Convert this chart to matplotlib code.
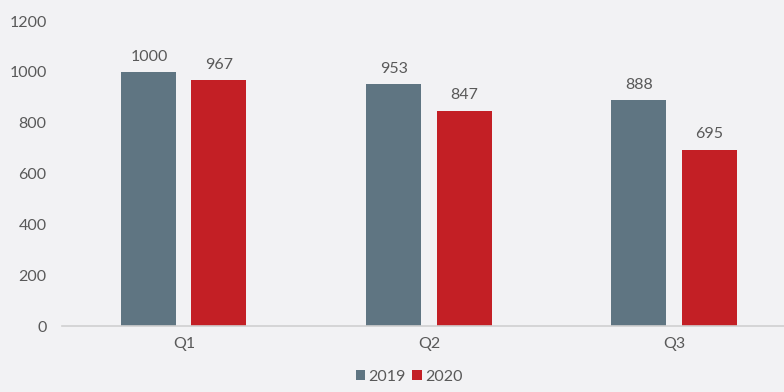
import matplotlib
matplotlib.use("Agg")
import matplotlib.pyplot as plt
import numpy as np

categories = ["Q1", "Q2", "Q3"]
series_names = ["2019", "2020"]
values_2019 = [1000, 953, 888]
values_2020 = [967, 847, 695]
y_ticks = [0, 200, 400, 600, 800, 1000, 1200]

bg = "#f2f2f4"
colors = ["#5f7582", "#c31f25"]
text_color = "#595959"

plt.rcParams["font.family"] = ["Lato", "DejaVu Sans"]

fig = plt.figure(figsize=(7.84, 3.92), dpi=100, facecolor=bg)
ax = fig.add_axes([0.079, 0.168, 0.921, 0.778], facecolor=bg)

x = np.arange(len(categories))
width = 0.2245
offsets = [-0.143, 0.143]

for vals, off, col, name in zip([values_2019, values_2020], offsets, colors, series_names):
    bars = ax.bar(x + off, vals, width=width, color=col, label=name, zorder=2)
    for b, v in zip(bars, vals):
        ax.text(b.get_x() + b.get_width() / 2, v + 33, f"{v}", ha="center", va="bottom",
                fontsize=11.5, color=text_color)

ax.set_xlim(-0.498, 2.449)
ax.set_ylim(0, 1200)
ax.set_yticks(y_ticks)
ax.set_xticks(x)
ax.set_xticklabels(categories)
ax.tick_params(axis="both", length=0, labelsize=11.5, colors=text_color)
ax.tick_params(axis="y", pad=11)
ax.tick_params(axis="x", pad=8)

for s in ["top", "right", "left"]:
    ax.spines[s].set_visible(False)
ax.spines["bottom"].set_color("#d0d0d0")
ax.spines["bottom"].set_linewidth(1.2)

leg = fig.legend(loc="lower center", bbox_to_anchor=(0.522, -0.015), ncol=2, frameon=False,
                 fontsize=11.5, handlelength=0.6, handleheight=0.6, handletextpad=0.2,
                 columnspacing=0.4, labelcolor=text_color)

fig.savefig("out.png", dpi=100, facecolor=bg)
